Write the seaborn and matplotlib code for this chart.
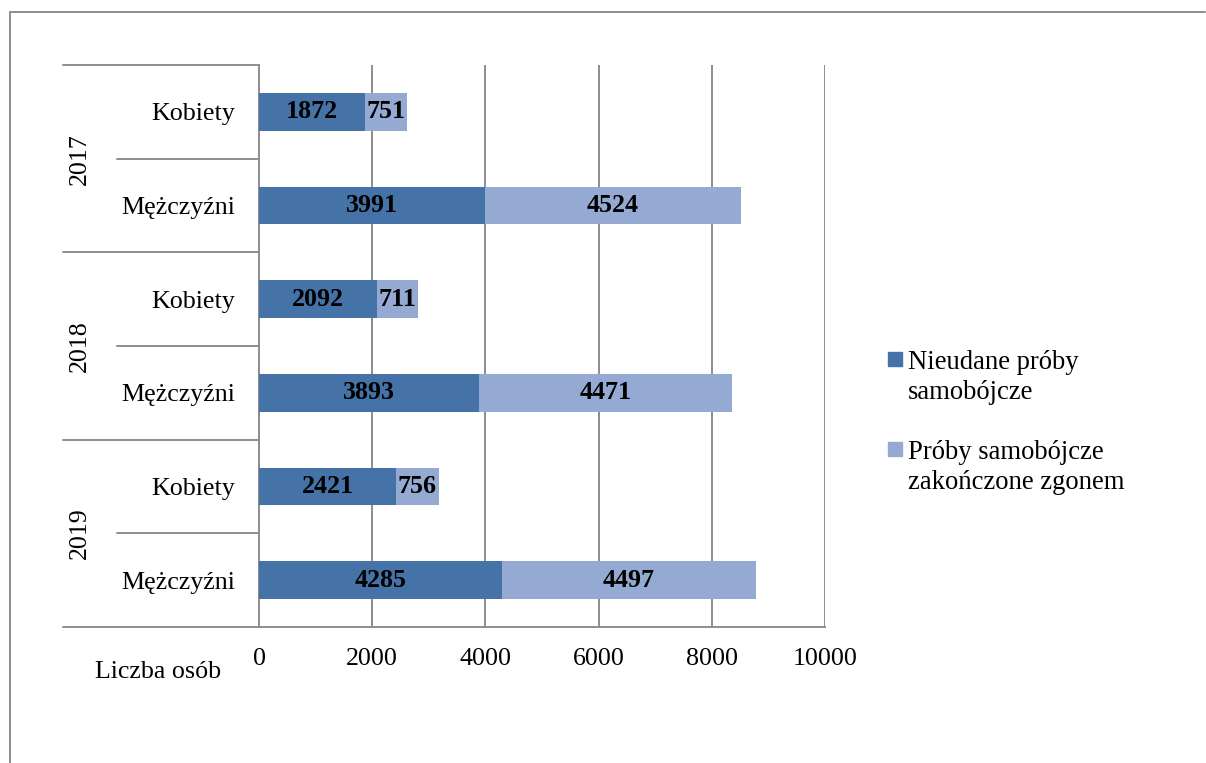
import matplotlib
matplotlib.use("Agg")
import matplotlib.pyplot as plt
from matplotlib.lines import Line2D
import seaborn as sns
import pandas as pd

# Data: suicide attempts by year and sex
years = ["2017", "2017", "2018", "2018", "2019", "2019"]
sexes = ["Kobiety", "Mężczyźni", "Kobiety", "Mężczyźni", "Kobiety", "Mężczyźni"]
nieudane = [1872, 3991, 2092, 3893, 2421, 4285]
zgon = [751, 4524, 711, 4471, 756, 4497]
series_names = ["Nieudane próby\nsamobójcze", "Próby samobójcze\nzakończone zgonem"]
x_ticks = [0, 2000, 4000, 6000, 8000, 10000]
axis_title = "Liczba osób"

dark = "#4673A7"
light = "#95AAD3"
grid_c = "#8C8C8C"

sns.set_theme(style="white")
plt.rcParams["font.family"] = ["Liberation Serif", "DejaVu Serif"]
plt.rcParams["text.color"] = "black"
plt.rcParams["xtick.labelcolor"] = "black"
plt.rcParams["ytick.labelcolor"] = "black"
FS = 18.7

df = pd.DataFrame({
    "row": [f"{y} {s}" for y, s in zip(years, sexes)],
    "nieudane": nieudane,
    "zgon": zgon,
})
df["total"] = df["nieudane"] + df["zgon"]

W, H = 1206, 763
fig = plt.figure(figsize=(W / 100, H / 100), dpi=100)
ax = fig.add_axes([259 / W, 1 - 627 / H, 566 / W, 562 / H])

# stacked bars: full total in light colour, first series on top in dark colour
sns.barplot(data=df, y="row", x="total", orient="h", color=light,
            width=0.4, saturation=1, ax=ax, zorder=3, linewidth=0)
sns.barplot(data=df, y="row", x="nieudane", orient="h", color=dark,
            width=0.4, saturation=1, ax=ax, zorder=4, linewidth=0)

ax.set_xlim(0, 10000)
ax.set_ylim(5.5, -0.5)
ax.set_xticks(x_ticks)
ax.set_xticklabels([str(t) for t in x_ticks], fontsize=FS, color="black")
ax.set_yticks(range(len(sexes)))
ax.set_yticklabels(sexes, fontsize=FS, color="black")
ax.set_xlabel("")
ax.set_ylabel("")
ax.tick_params(axis="y", length=0, pad=17)
ax.tick_params(axis="x", length=6, width=1.4, color=grid_c, pad=9)

for x in x_ticks[1:]:
    ax.axvline(x, color=grid_c, lw=1.4, zorder=1)

for side in ["top", "right"]:
    ax.spines[side].set_visible(False)
for side in ["left", "bottom"]:
    ax.spines[side].set_color(grid_c)
    ax.spines[side].set_linewidth(1.4)

# value labels centred in each segment
for i, (a, b) in enumerate(zip(nieudane, zgon)):
    ax.text(a / 2, i, str(a), ha="center", va="center", fontsize=FS,
            fontweight="bold", color="black", zorder=5)
    ax.text(a + b / 2, i, str(b), ha="center", va="center", fontsize=FS,
            fontweight="bold", color="black", zorder=5)

# two-level category axis: group separators and year labels
trans = ax.get_yaxis_transform()
x_outer = (63 - 259) / 566
x_inner = (117 - 259) / 566
for y in [-0.5, 1.5, 3.5, 5.5]:
    ax.plot([x_outer, 0], [y, y], color=grid_c, lw=1.4, transform=trans,
            clip_on=False)
for y in [0.5, 2.5, 4.5]:
    ax.plot([x_inner, 0], [y, y], color=grid_c, lw=1.4, transform=trans,
            clip_on=False)
for k, yr in enumerate(["2017", "2018", "2019"]):
    ax.text((80 - 259) / 566, 2 * k + 0.5, yr, rotation=90, ha="center",
            va="center", fontsize=FS, color="black", transform=trans)

fig.text(158 / W, 1 - 672 / H, axis_title, ha="center", va="center",
         fontsize=FS, color="black")

# figure frame
fig.add_artist(Line2D([10 / W, 1205 / W], [1 - 12 / H, 1 - 12 / H],
                      color=grid_c, lw=1.4, transform=fig.transFigure))
fig.add_artist(Line2D([10 / W, 10 / W], [1 - 12 / H, 0],
                      color=grid_c, lw=1.4, transform=fig.transFigure))

# legend: square key next to the first line of each two-line label
for (name, col, y_mark, y_base) in [(series_names[0], dark, 359, 399),
                                   (series_names[1], light, 449, 489)]:
    fig.add_artist(Line2D([895 / W], [1 - y_mark / H], marker="s",
                          markersize=10, color=col, linestyle="none",
                          transform=fig.transFigure))
    fig.text(908 / W, 1 - y_base / H, name, ha="left", va="baseline",
             fontsize=19.2, color="black", linespacing=1.26)

fig.savefig("out.png", dpi=100)
